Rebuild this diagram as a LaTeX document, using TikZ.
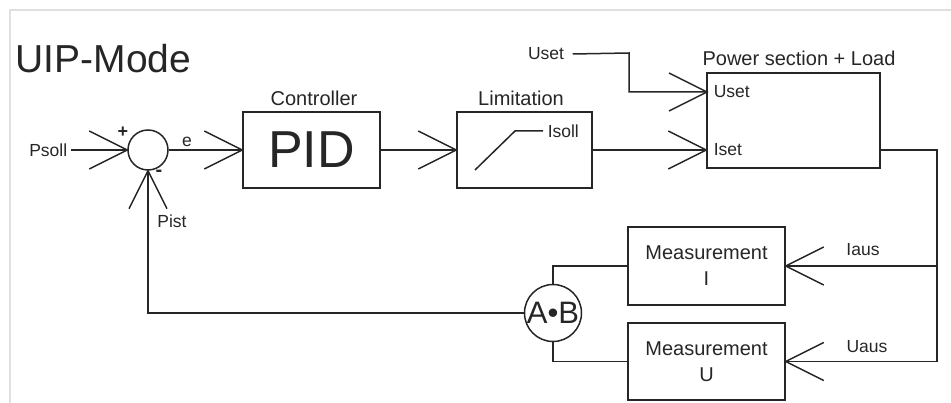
\documentclass[tikz,border=0pt]{standalone}
\usepackage{fontspec}
\setmainfont{Liberation Sans}
\newcommand\fsz[1]{\fontsize{#1}{#1}\selectfont}
\newcommand\varms[2]{\draw[shift={#1},rotate=#2] (-38,19) -- (0,0) -- (-38,-19);}
\begin{document}
\begin{tikzpicture}[x=1pt,y=-1pt,line width=1.5pt,draw=black!85,text=black!85,
  blk/.style={draw,inner sep=0pt,font=\fsz{20}},
  lbl/.style={inner sep=0pt,font=\fsz{17.5}},
  ttl/.style={inner sep=0pt,font=\fsz{20}}]
\useasboundingbox (0,0) rectangle (951,403);
\draw[black!12,line width=1.5pt] (10,403) -- (10,10) -- (951,10);
\node[anchor=base west,inner sep=0pt,font=\fsz{39}] (title) at (15,73) {UIP-Mode};
% nodes
\node[circle,draw,minimum size=40pt,inner sep=0pt] (sum) at (148,150) {};
\node[lbl,anchor=east] (psoll) at (68,150) {Psoll};
\node[lbl,font=\bfseries\fsz{18}] (plus) at (123,132) {+};
\node[lbl,font=\bfseries\fsz{20}] (minus) at (159,173) {-};
\node[lbl] (pist) at (172,221) {Pist};
\node[lbl] (e) at (187,142) {e};
\node[blk,minimum width=137pt,minimum height=76pt,font=\fsz{52}] (pid) at (311.5,150) {PID};
\node[ttl] (ctl) at (314,98) {Controller};
\node[blk,minimum width=135pt,minimum height=76pt] (lim) at (524.5,150) {};
\node[ttl] (limt) at (521,98) {Limitation};
\node[lbl,anchor=west] (isoll) at (547,131) {Isoll};
\coordinate (r1) at (475,170);
\coordinate (r2) at (515,131);
\node[blk,minimum width=173pt,minimum height=95pt] (pow) at (793.5,120.5) {};
\node[ttl] (powt) at (799,58) {Power section + Load};
\node[lbl,anchor=west] (usetin) at (713,92) {Uset};
\node[lbl,anchor=west] (isetin) at (713,150) {Iset};
\node[lbl] (uset) at (546,54) {Uset};
\coordinate (uin) at (707,92);
\coordinate (ubend) at (629,53);
\node[blk,minimum width=157pt,minimum height=78pt,align=center] (mi) at (706.5,266) {Measurement\\[6pt]I};
\node[blk,minimum width=157pt,minimum height=77pt,align=center] (mu) at (706.5,361.5) {Measurement\\[6pt]U};
\node[circle,draw,minimum size=57pt,inner sep=0pt,font=\fsz{31}] (ab) at (553,313) {A•B};
\node[lbl] (iaus) at (863,250) {Iaus};
\node[lbl] (uaus) at (867,347) {Uaus};
\coordinate (rb) at (937,150);
% connectors
\draw ([xshift=3pt]psoll.east) -- (sum.west);
\varms{(sum.west)}{0}
\draw (sum.east) -- (pid.west);
\varms{(pid.west)}{0}
\draw (pid.east) -- (lim.west);
\varms{(lim.west)}{0}
\draw (r1) -- (r2) -- ([xshift=-4pt]isoll.west);
\draw ([xshift=8pt]uset.east) -- (ubend) |- (uin);
\varms{(uin)}{0}
\draw (lim.east) -- (lim.east -| pow.west);
\varms{(lim.east -| pow.west)}{0}
\draw (pow.east |- lim.east) -- (rb) |- (mu.east);
\draw (rb |- mi.east) -- (mi.east);
\varms{(mi.east)}{180}
\varms{(mu.east)}{180}
\draw (ab.north) |- (mi.west);
\draw (ab.south) |- (mu.west);
\draw (ab.west) -| (sum.south);
\varms{(sum.south)}{90}
\end{tikzpicture}
\end{document}
